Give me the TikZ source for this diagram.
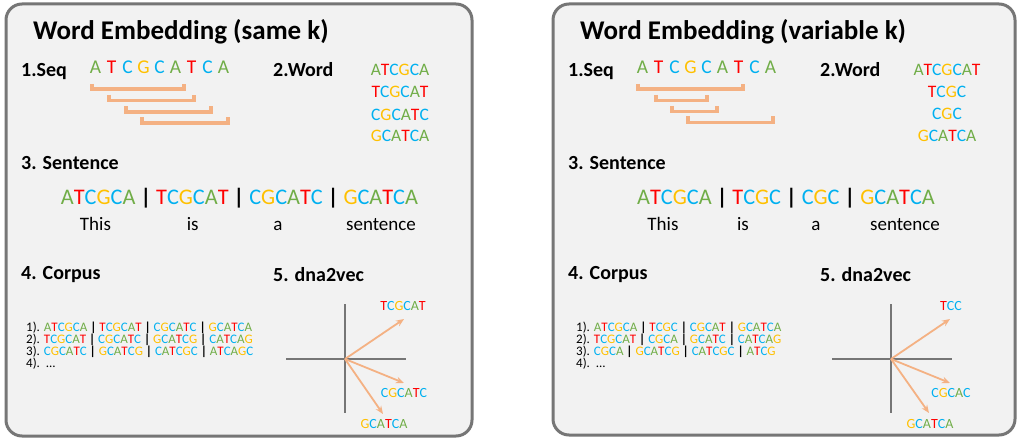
\documentclass[tikz,border=0pt]{standalone}
\usepackage{fontspec}
\setmainfont{Carlito}
\usetikzlibrary{arrows.meta}
\definecolor{cA}{RGB}{112,173,71}
\definecolor{cT}{RGB}{255,0,0}
\definecolor{cC}{RGB}{0,176,240}
\definecolor{cG}{RGB}{255,192,0}
\definecolor{panelfill}{RGB}{242,242,242}
\definecolor{panelline}{RGB}{118,118,118}
\definecolor{orng}{RGB}{244,177,131}
\definecolor{axisgray}{RGB}{118,118,118}
\newcommand\dnaletter[1]{\ifx#1A\textcolor{cA}{A}\else\ifx#1T\textcolor{cT}{T}\else\ifx#1C\textcolor{cC}{C}\else\ifx#1G\textcolor{cG}{G}\else#1\fi\fi\fi\fi}
\newcommand\dna[1]{\dnaloop#1\relax}
\def\dnaloop#1{\ifx#1\relax\else\dnaletter{#1}\expandafter\dnaloop\fi}
\newcommand\dnax[1]{\expandafter\dna\expandafter{#1}}
\newcommand\sepbar{{\bfseries |}}
\tikzset{
  panel/.style={draw=panelline, line width=3pt, rounded corners=16pt, fill=panelfill},
  titletext/.style={anchor=base west, inner sep=0pt, font=\fontsize{27}{32}\selectfont\bfseries},
  headtext/.style={anchor=base west, inner sep=0pt, font=\fontsize{20}{24}\selectfont\bfseries},
  seqletter/.style={anchor=base, inner sep=0pt, font=\fontsize{19.5}{23}\selectfont},
  wordtext/.style={anchor=base, inner sep=0pt, font=\fontsize{17.5}{21}\selectfont},
  sentencetext/.style={anchor=base, inner sep=0pt, font=\fontsize{22.3}{26}\selectfont},
  glosstext/.style={anchor=base, inner sep=0pt, font=\fontsize{19}{23}\selectfont},
  corpustext/.style={anchor=base west, inner sep=0pt, font=\fontsize{13}{15}\selectfont},
  veclabel/.style={anchor=base, inner sep=0pt, font=\fontsize{14}{17}\selectfont},
  bracketline/.style={draw=orng, line width=3.5pt},
  axisline/.style={draw=axisgray, line width=2.3pt},
  vecline/.style={draw=orng, line width=1.8pt, -{Stealth[length=8pt,width=6.5pt]}}
}
\begin{document}
\begin{tikzpicture}[x=1pt,y=-1pt]
\useasboundingbox (0,0) rectangle (1022,441);
\fill[white] (0,0) rectangle (1022,441);
% ---------------- Left panel ----------------
\draw[panel] (6,4) rectangle (472,436);
\node[titletext] (t1) at (33,39.5) {Word Embedding (same k)};
\node[headtext] (h1a) at (21,77) {1.Seq};
\node[headtext] (h1b) at (273,77) {2.Word};
\foreach \L [count=\i from 0] in {A,T,C,G,C,A,T,C,A}
  \node[seqletter] (sl\i) at ({95.5+16*\i},74) {\dnax{\L}};
\draw[bracketline] (92,84) -- (92,89) -- (184,89) -- (184,84);
\draw[bracketline] (109,95) -- (109,100.5) -- (194,100.5) -- (194,95);
\draw[bracketline] (126,106.5) -- (126,112) -- (211,112) -- (211,106.5);
\draw[bracketline] (142,117) -- (142,123) -- (228,123) -- (228,117);
\node[wordtext] (lw1) at (400,76) {\dna{ATCGCA}};
\node[wordtext] (lw2) at (400,98) {\dna{TCGCAT}};
\node[wordtext] (lw3) at (400,120.5) {\dna{CGCATC}};
\node[wordtext] (lw4) at (400,142) {\dna{GCATCA}};
\node[headtext] (h1c) at (21,169) {3. Sentence};
\node[sentencetext] (ls) at (239.5,204.3) {\dna{ATCGCA} \sepbar{} \dna{TCGCAT} \sepbar{} \dna{CGCATC} \sepbar{} \dna{GCATCA}};
\node[glosstext] (lg1) at (95.5,230) {This};
\node[glosstext] (lg2) at (192.7,230) {is};
\node[glosstext] (lg3) at (278,230) {a};
\node[glosstext] (lg4) at (381,230) {sentence};
\node[headtext] (h1d) at (21,279) {4. Corpus};
\node[headtext] (h1e) at (273,281) {5. dna2vec};
\node[corpustext] (lc1) at (26,331) {1). \dna{ATCGCA} \sepbar{} \dna{TCGCAT} \sepbar{} \dna{CGCATC} \sepbar{} \dna{GCATCA}};
\node[corpustext] (lc2) at (26,343.3) {2). \dna{TCGCAT} \sepbar{} \dna{CGCATC} \sepbar{} \dna{GCATCG} \sepbar{} \dna{CATCAG}};
\node[corpustext] (lc3) at (26,355.6) {3). \dna{CGCATC} \sepbar{} \dna{GCATCG} \sepbar{} \dna{CATCGC} \sepbar{} \dna{ATCAGC}};
\node[corpustext] (lc4) at (26,367.5) {4).\ \ ...};
\coordinate (lxl) at (286,359);
\coordinate (lxr) at (406,359);
\coordinate (lyt) at (345,304);
\coordinate (lyb) at (345,413);
\coordinate (lo) at (345,359);
\draw[axisline] (lxl) -- (lxr);
\draw[axisline] (lyt) -- (lyb);
\coordinate (lv1) at (404,319);
\coordinate (lv2) at (404,383);
\coordinate (lv3) at (383,414);
\draw[vecline] (lo) -- (lv1);
\draw[vecline] (lo) -- (lv2);
\draw[vecline] (lo) -- (lv3);
\node[veclabel] (lvl1) at (403,310) {\dna{TCGCAT}};
\node[veclabel] (lvl2) at (404,397.5) {\dna{CGCATC}};
\node[veclabel] (lvl3) at (384,428.5) {\dna{GCATCA}};
% ---------------- Right panel ----------------
\draw[panel] (553,4) rectangle (1015,435);
\node[titletext] (t2) at (580,39.5) {Word Embedding (variable k)};
\node[headtext] (h2a) at (568,77) {1.Seq};
\node[headtext] (h2b) at (820,77) {2.Word};
\foreach \L [count=\i from 0] in {A,T,C,G,C,A,T,C,A}
  \node[seqletter] (sr\i) at ({642.5+16*\i},73.5) {\dnax{\L}};
\draw[bracketline] (638,84) -- (638,89) -- (743,89) -- (743,84);
\draw[bracketline] (656,95) -- (656,100.5) -- (707,100.5) -- (707,95);
\draw[bracketline] (672,106) -- (672,111.5) -- (717,111.5) -- (717,106);
\draw[bracketline] (688,116.5) -- (688,122.5) -- (773,122.5) -- (773,116.5);
\node[wordtext] (rw1) at (947,75.5) {\dna{ATCGCAT}};
\node[wordtext] (rw2) at (947,98) {\dna{TCGC}};
\node[wordtext] (rw3) at (947,120) {\dna{CGC}};
\node[wordtext] (rw4) at (947,142) {\dna{GCATCA}};
\node[headtext] (h2c) at (568,169) {3. Sentence};
\node[sentencetext] (rs) at (786,204.3) {\dna{ATCGCA} \sepbar{} \dna{TCGC} \sepbar{} \dna{CGC} \sepbar{} \dna{GCATCA}};
\node[glosstext] (rg1) at (663,230) {This};
\node[glosstext] (rg2) at (743,230) {is};
\node[glosstext] (rg3) at (816,230) {a};
\node[glosstext] (rg4) at (905,230) {sentence};
\node[headtext] (h2d) at (568,279) {4. Corpus};
\node[headtext] (h2e) at (820,281) {5. dna2vec};
\node[corpustext] (rc1) at (576,331) {1). \dna{ATCGCA} \sepbar{} \dna{TCGC} \sepbar{} \dna{CGCAT} \sepbar{} \dna{GCATCA}};
\node[corpustext] (rc2) at (576,343.3) {2). \dna{TCGCAT} \sepbar{} \dna{CGCA} \sepbar{} \dna{GCATC} \sepbar{} \dna{CATCAG}};
\node[corpustext] (rc3) at (576,355.6) {3). \dna{CGCA} \sepbar{} \dna{GCATCG} \sepbar{} \dna{CATCGC} \sepbar{} \dna{ATCG}};
\node[corpustext] (rc4) at (576,367.5) {4).\ \ ...};
\coordinate (rxl) at (832,359);
\coordinate (rxr) at (952,359);
\coordinate (ryt) at (891,304);
\coordinate (ryb) at (891,413);
\coordinate (ro) at (891,359);
\draw[axisline] (rxl) -- (rxr);
\draw[axisline] (ryt) -- (ryb);
\coordinate (rv1) at (950,319);
\coordinate (rv2) at (950,383);
\coordinate (rv3) at (929,413);
\draw[vecline] (ro) -- (rv1);
\draw[vecline] (ro) -- (rv2);
\draw[vecline] (ro) -- (rv3);
\node[veclabel] (rvl1) at (951,310) {\dna{TCC}};
\node[veclabel] (rvl2) at (951,397.5) {\dna{CGCAC}};
\node[veclabel] (rvl3) at (930,428.5) {\dna{GCATCA}};
\end{tikzpicture}
\end{document}
